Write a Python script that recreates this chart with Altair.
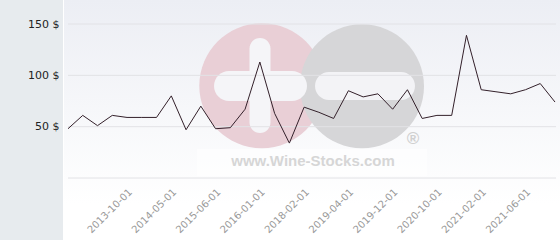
import altair as alt
import pandas as pd

# --- data ---
prices = [48, 61, 51, 61, 59, 59, 59, 80, 47, 70, 48, 49, 67, 113, 63, 34, 69, 64,
          58, 85, 79, 82, 67, 86, 58, 61, 61, 139, 86, 84, 82, 86, 92, 74]
tick_index = [4, 7, 10, 13, 16, 19, 22, 25, 28, 31]
tick_labels = ["2013-10-01", "2014-05-01", "2015-06-01", "2016-01-01", "2018-02-01",
               "2019-04-01", "2019-12-01", "2020-10-01", "2021-02-01", "2021-06-01"]
y_ticks = [50, 100, 150]
grid_values = [0, 50, 100, 150]

W, H = 487, 178
df = pd.DataFrame({"i": list(range(len(prices))), "price": prices})
one = pd.DataFrame({"a": [0]})
grid_df = pd.DataFrame({"price": grid_values})

ydom = [0, 173.4]
label_expr = "[" + ",".join(f"'{t}'" for t in tick_labels) + "][indexof([" + \
    ",".join(str(t) for t in tick_index) + "], datum.value)]"

def box(x, x2, y, y2, color, radius=0, opacity=1):
    return alt.Chart(one).mark_rect(color=color, cornerRadius=radius, opacity=opacity).encode(
        x=alt.value(x), x2=alt.value(x2), y=alt.value(y), y2=alt.value(y2))

panel = box(-68, -5, 0, 240, "#e7ebee")
bg = alt.Chart(one).mark_rect(
    color=alt.Gradient(gradient="linear",
                       stops=[alt.GradientStop(color="#eceef4", offset=0),
                              alt.GradientStop(color="#ffffff", offset=0.85)],
                       x1=0, x2=0, y1=0, y2=1)
).encode(x=alt.value(-4), x2=alt.value(492), y=alt.value(0), y2=alt.value(240))

pink = box(131.3, 256.3, 23.3, 148.3, "#e9cfd6", 62.5)
gray = box(232, 356, 24.3, 148.3, "#d6d6d8", 62)
vbar = box(181.5, 202.5, 38, 133, "#f5f5f8", 10.5)
hbar = box(146, 239, 71, 101, "#f5f5f8", 15)
mbar = box(247, 347, 72, 100, "#f3f3f6", 14)
textbox = box(129, 359, 149, 176, "#ffffff", 0, 0.5)
wm_text = alt.Chart(one).mark_text(
    text="www.Wine-Stocks.com", font="Liberation Sans", fontWeight="bold", fontSize=15,
    color="#d6d6d6", align="center", baseline="middle"
).encode(x=alt.value(245), y=alt.value(161))
reg = alt.Chart(one).mark_text(
    text="®", font="Liberation Sans", fontWeight="bold", fontSize=17,
    color="#d0d0d0", align="center", baseline="middle"
).encode(x=alt.value(345), y=alt.value(139))

y_axis = alt.Axis(values=y_ticks, labelExpr="datum.value + ' $'", title=None,
                  grid=False, ticks=False, domain=False, labelPadding=9, zindex=1,
                  labelFont="DejaVu Sans", labelFontSize=11, labelColor="#222222")
y_scale = alt.Scale(domain=ydom, nice=False)

grid = alt.Chart(grid_df).mark_rule(color="#e2e2e6", strokeWidth=1).encode(
    y=alt.Y("price:Q", scale=y_scale, axis=y_axis),
    x=alt.value(0), x2=alt.value(W + 1))

line = alt.Chart(df).mark_line(color="#33202a", strokeWidth=1).encode(
    x=alt.X("i:Q", scale=alt.Scale(domain=[0, len(prices) - 1], nice=False, zero=False),
            axis=alt.Axis(values=tick_index, labelExpr=label_expr, title=None, grid=False,
                          ticks=False, domain=False, labelAngle=315, labelAlign="right",
                          labelBaseline="middle", labelPadding=12, labelOffset=3, zindex=1,
                          labelFont="DejaVu Sans", labelFontSize=10, labelColor="#999999",
                          labelOverlap=False)),
    y=alt.Y("price:Q", scale=y_scale, axis=y_axis),
)

chart = alt.layer(panel, bg, pink, gray, vbar, hbar, mbar, textbox, wm_text, reg, grid, line).properties(
    width=W, height=H, autosize="none",
    padding={"left": 68, "top": 0, "right": 5, "bottom": 62},
    background="#ffffff",
).configure_view(stroke=None)

chart.save("out.html", embed_options={"renderer": "svg", "actions": False})
